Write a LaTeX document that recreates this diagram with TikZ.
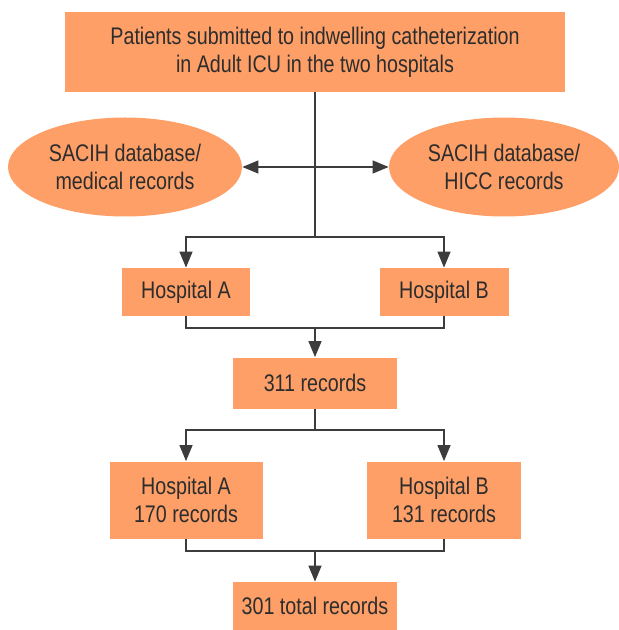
\documentclass[tikz,border=0pt]{standalone}
\usepackage{fontspec}
\setmainfont[FakeStretch=0.82]{Liberation Sans}
\usetikzlibrary{shapes.geometric,arrows.meta}
\definecolor{boxfill}{RGB}{253,159,103}
\definecolor{txt}{RGB}{45,45,45}
\definecolor{wire}{RGB}{60,60,60}
\tikzset{
  stepbox/.style={fill=boxfill,text=txt,inner sep=0pt,align=center,
    font=\fontsize{12}{14}\selectfont},
  source/.style={stepbox,ellipse},
  link/.style={draw=wire,line width=0.65pt},
  tri/.tip={Triangle[length=8pt,width=6.5pt]}
}
\begin{document}
\begin{tikzpicture}[x=0.5pt,y=-0.5pt]
\useasboundingbox (0,0) rectangle (619,630);
% boxes
\node[stepbox,minimum width=250pt,minimum height=40pt] (patients) at (315,52)
  {Patients submitted to indwelling catheterization\\in Adult ICU in the two hospitals};
\node[source,minimum width=117pt,minimum height=49.5pt] (medrec) at (125,167)
  {SACIH database/\\medical records};
\node[source,minimum width=115pt,minimum height=49.5pt] (hicc) at (504,167)
  {SACIH database/\\HICC records};
\node[stepbox,minimum width=64pt,minimum height=24pt] (hospA) at (186,292) {Hospital A};
\node[stepbox,minimum width=64.5pt,minimum height=24pt] (hospB) at (444,292) {Hospital B};
\node[stepbox,minimum width=82pt,minimum height=25.5pt] (rec311) at (315,383) {311 records};
\node[stepbox,minimum width=76.5pt,minimum height=38.5pt] (recA) at (186,500)
  {Hospital A\\170 records};
\node[stepbox,minimum width=77pt,minimum height=38.5pt] (recB) at (444,500)
  {Hospital B\\131 records};
\node[stepbox,minimum width=82pt,minimum height=24pt] (total) at (315,606) {301 total records};

% junctions
\coordinate (split1) at (315,237);
\coordinate (merge1) at (315,328);
\coordinate (split2) at (315,430);
\coordinate (merge2) at (315,551);

% connectors
\draw[link] (patients.south) -- (split1);
\draw[link,tri-tri] (medrec.east) -- (hicc.west);
\draw[link,-tri] (split1) -| (hospA.north);
\draw[link,-tri] (split1) -| (hospB.north);
\draw[link] (hospA.south) |- (merge1);
\draw[link] (hospB.south) |- (merge1);
\draw[link,-tri] (merge1) -- (rec311.north);
\draw[link] (rec311.south) -- (split2);
\draw[link,-tri] (split2) -| (recA.north);
\draw[link,-tri] (split2) -| (recB.north);
\draw[link] (recA.south) |- (merge2);
\draw[link] (recB.south) |- (merge2);
\draw[link,-tri] (merge2) -- (total.north);
\end{tikzpicture}
\end{document}
